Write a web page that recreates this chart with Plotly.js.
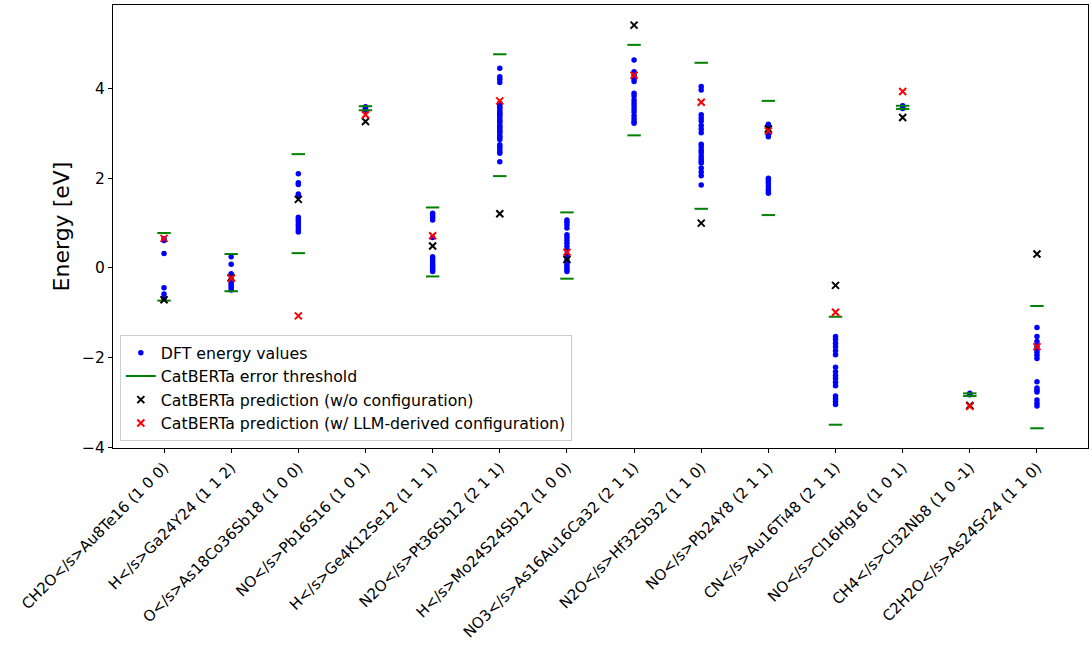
<!DOCTYPE html>
<html>
<head>
<meta charset="utf-8">
<script src="https://cdn.plot.ly/plotly-3.0.1.min.js"></script>
<style>html,body{margin:0;padding:0;background:#fff;}#chart{width:1089px;height:647px;}</style>
</head>
<body>
<div id="chart"></div>
<script>
const categories = [
  "CH2O&lt;/s&gt;Au8Te16 (1 0 0)",
  "H&lt;/s&gt;Ga24Y24 (1 1 2)",
  "O&lt;/s&gt;As18Co36Sb18 (1 0 0)",
  "NO&lt;/s&gt;Pb16S16 (1 0 1)",
  "H&lt;/s&gt;Ge4K12Se12 (1 1 1)",
  "N2O&lt;/s&gt;Pt36Sb12 (2 1 1)",
  "H&lt;/s&gt;Mo24S24Sb12 (1 0 0)",
  "NO3&lt;/s&gt;As16Au16Ca32 (2 1 1)",
  "N2O&lt;/s&gt;Hf32Sb32 (1 1 0)",
  "NO&lt;/s&gt;Pb24Y8 (2 1 1)",
  "CN&lt;/s&gt;Au16Ti48 (2 1 1)",
  "NO&lt;/s&gt;Cl16Hg16 (1 0 1)",
  "CH4&lt;/s&gt;Cl32Nb8 (1 0 -1)",
  "C2H2O&lt;/s&gt;As24Sr24 (1 1 0)"
];

const dft0 = [0.65, 0.61, 0.32, -0.44, -0.58, -0.68];
const dft1 = [0.25, 0.08, -0.13, -0.25, -0.31, -0.36, -0.40, -0.44, -0.49];
const dft2 = [2.10, 1.90, 1.86, 1.65, 1.60, 1.13, 1.08, 1.03, 0.97, 0.92, 0.86, 0.80];
const dft3 = [3.60, 3.57, 3.55, 3.52];
const dft4 = [1.22, 1.17, 1.12, 1.07, 0.68, 0.25, 0.20, 0.14, 0.09, 0.04, 0.00, -0.04, -0.08];
const dft5 = [4.46, 4.27, 4.21, 4.14, 3.68, 3.65, 3.60, 3.57, 3.52, 3.47, 3.44, 3.41, 3.36, 3.31, 3.28, 3.25, 3.19, 3.16, 3.12, 3.07, 3.04, 3.01, 2.95, 2.92, 2.87, 2.75, 2.71, 2.66, 2.60, 2.56, 2.37];
const dft6 = [1.07, 1.02, 0.96, 0.89, 0.74, 0.68, 0.61, 0.55, 0.48, 0.40, 0.30, 0.18, 0.12, 0.06, 0.01, -0.04, -0.08];
const dft7 = [4.64, 4.38, 4.30, 4.22, 4.16, 3.90, 3.84, 3.75, 3.68, 3.62, 3.55, 3.48, 3.40, 3.33, 3.27, 3.23];
const dft8 = [4.05, 3.97, 3.42, 3.35, 3.28, 3.18, 3.10, 3.02, 2.76, 2.70, 2.63, 2.57, 2.50, 2.44, 2.38, 2.34, 2.23, 2.14, 2.06, 1.85];
const dft9 = [3.21, 3.17, 3.12, 3.05, 2.98, 2.93, 2.00, 1.95, 1.90, 1.83, 1.77, 1.72, 1.67];
const dft10 = [-1.53, -1.60, -1.68, -1.76, -1.85, -1.94, -2.22, -2.32, -2.40, -2.47, -2.55, -2.63, -2.86, -2.92, -2.98, -3.05];
const dft11 = [3.62, 3.59, 3.56];
const dft12 = [-2.80, -2.83];
const dft13 = [-1.33, -1.53, -1.64, -1.76, -1.82, -1.88, -1.95, -2.02, -2.54, -2.68, -2.73, -2.77, -2.95, -3.02, -3.08];

const thresholdUpper = [0.78, 0.31, 2.54, 3.61, 1.35, 4.77, 1.24, 4.98, 4.58, 3.73, -1.09, 3.62, -2.80, -0.85];
const thresholdLower = [-0.73, -0.52, 0.33, 3.52, -0.19, 2.05, -0.24, 2.96, 1.32, 1.18, -3.50, 3.55, -2.86, -3.58];

const predNoConfig = [-0.71, -0.22, 1.53, 3.27, 0.49, 1.21, 0.19, 5.42, 1.00, 3.10, -0.39, 3.36, -3.07, 0.31];
const predLLMConfig = [0.66, -0.23, -1.07, 3.42, 0.72, 3.73, 0.35, 4.30, 3.70, 3.06, -0.99, 3.94, -3.09, -1.76];

const dftAll = [dft0, dft1, dft2, dft3, dft4, dft5, dft6, dft7, dft8, dft9, dft10, dft11, dft12, dft13];

const idx = categories.map((_, i) => i);
const dftX = [], dftY = [];
dftAll.forEach((vals, i) => vals.forEach(v => { dftX.push(i); dftY.push(v); }));

const halfW = 0.1;
const thX = [], thY = [];
idx.forEach(i => {
  [thresholdUpper[i], thresholdLower[i]].forEach(v => {
    thX.push(i - halfW, i + halfW, null);
    thY.push(v, v, null);
  });
});

const font = "DejaVu Sans, Liberation Sans, sans-serif";

const traces = [
  {x: dftX, y: dftY, type: 'scatter', mode: 'markers', name: 'DFT energy values',
   marker: {color: '#0000ff', size: 5.5}},
  {x: thX, y: thY, type: 'scatter', mode: 'lines', name: 'CatBERTa error threshold',
   line: {color: '#008000', width: 2}, connectgaps: false},
  {x: idx, y: predNoConfig, type: 'scatter', mode: 'markers', name: 'CatBERTa prediction (w/o configuration)',
   marker: {symbol: 'x-thin', size: 7, line: {color: '#000000', width: 2}, color: '#000000'}},
  {x: idx, y: predLLMConfig, type: 'scatter', mode: 'markers', name: 'CatBERTa prediction (w/ LLM-derived configuration)',
   marker: {symbol: 'x-thin', size: 7, line: {color: '#ff0000', width: 2}, color: '#ff0000'}}
];

const layout = {
  width: 1089, height: 647,
  margin: {l: 113, r: 1, t: 5, b: 199},
  paper_bgcolor: '#fff', plot_bgcolor: '#fff',
  font: {family: font, size: 15.75, color: '#000'},
  showlegend: true,
  legend: {x: 0.007, y: 0.016, xanchor: 'left', yanchor: 'bottom',
    bgcolor: 'rgba(255,255,255,0.8)', bordercolor: '#cccccc', borderwidth: 1,
    font: {family: font, size: 15.75, color: '#000'}, tracegroupgap: 0},
  xaxis: {
    range: [-0.76, 13.76], tickmode: 'array', tickvals: idx, ticktext: categories,
    tickangle: -45, ticks: 'outside', ticklen: 4, tickcolor: '#000',
    showline: true, linecolor: '#000', linewidth: 1, mirror: true,
    showgrid: false, zeroline: false, tickfont: {family: font, size: 15}
  },
  yaxis: {
    range: [-4.02, 5.87], tickvals: [-4, -2, 0, 2, 4],
    ticks: 'outside', ticklen: 4, tickcolor: '#000',
    showline: true, linecolor: '#000', linewidth: 1, mirror: true,
    showgrid: false, zeroline: false, tickfont: {family: font, size: 15.5},
    title: {text: 'Energy [eV]', font: {family: font, size: 22}, standoff: 6}
  }
};

Plotly.newPlot('chart', traces, layout, {displayModeBar: false, staticPlot: true});
</script>
</body>
</html>
